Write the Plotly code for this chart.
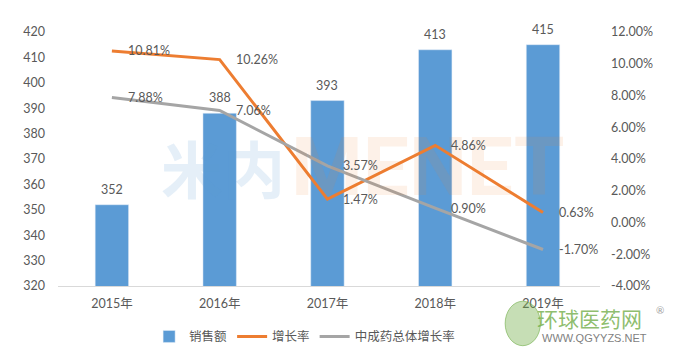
import plotly.graph_objects as go

categories = ["2015年", "2016年", "2017年", "2018年", "2019年"]
sales = [352, 388, 393, 413, 415]
growth = [10.81, 10.26, 1.47, 4.86, 0.63]
tcm_growth = [7.88, 7.06, 3.57, 0.90, -1.70]
right_ticks = [-4, -2, 0, 2, 4, 6, 8, 10, 12]

FONT = "Lato, 'Noto Sans CJK SC', sans-serif"
GRAY = "#595959"
FS = 12.5

fig = go.Figure()

# watermark
fig.add_annotation(xref="paper", yref="paper", x=0.305, y=0.468, text="<b>米内</b>",
                   showarrow=False, xanchor="center", yanchor="middle",
                   font=dict(size=62, color="rgba(91,155,213,0.16)", family="'Noto Sans CJK SC'"))
fig.add_annotation(xref="paper", yref="paper", x=0.683, y=0.468, text="<b>MENET</b>",
                   showarrow=False, xanchor="center", yanchor="middle",
                   font=dict(size=82, color="rgba(237,125,49,0.11)", family="Roboto"))

fig.add_trace(go.Bar(
    x=categories, y=sales, name="销售额", marker_color="#5B9BD5",
    width=0.31,
))
fig.add_trace(go.Scatter(
    x=categories, y=growth, name="增长率", mode="lines", yaxis="y2",
    line=dict(color="#ED7D31", width=3),
))
fig.add_trace(go.Scatter(
    x=categories, y=tcm_growth, name="中成药总体增长率", mode="lines", yaxis="y2",
    line=dict(color="#A5A5A5", width=3),
))

for c, v in zip(categories, sales):
    fig.add_annotation(x=c, y=v, text=str(v), showarrow=False, yanchor="bottom", yshift=6,
                       font=dict(size=FS, color=GRAY, family=FONT))

for series in (growth, tcm_growth):
    for c, v in zip(categories, series):
        fig.add_annotation(x=c, y=v, yref="y2", text=f"{v:.2f}%", showarrow=False,
                           xanchor="left", yanchor="middle", xshift=14,
                           font=dict(size=FS, color=GRAY, family=FONT))

# logo
fig.add_shape(type="circle", xref="paper", yref="paper", x0=0.825, x1=0.89, y0=-0.235, y1=-0.06,
              fillcolor="rgba(112,173,71,0.40)", line=dict(color="rgba(112,173,71,0.6)", width=1))
fig.add_annotation(xref="paper", yref="paper", x=0.98, y=-0.126, text="环球医药网",
                   showarrow=False, xanchor="center", yanchor="middle",
                   font=dict(size=21, color="rgba(112,173,71,0.8)", family="'Noto Sans CJK SC'"))
fig.add_annotation(xref="paper", yref="paper", x=0.99, y=-0.205, text="WWW.QGYYZS.NET",
                   showarrow=False, xanchor="center", yanchor="middle",
                   font=dict(size=11, color="#7F7F7F", family="Liberation Sans"))
fig.add_annotation(xref="paper", yref="paper", x=1.11, y=-0.094, text="®",
                   showarrow=False, xanchor="center", yanchor="middle",
                   font=dict(size=10, color="#A0A0A0"))

# page body has an 8px default margin, so the figure is sized/offset to compensate
fig.update_layout(
    width=668, height=351,
    margin=dict(l=50, r=76, t=24, b=73, autoexpand=False),
    paper_bgcolor="white", plot_bgcolor="white",
    font=dict(family=FONT, size=FS, color=GRAY),
    showlegend=True,
    legend=dict(orientation="h", x=0.455, xanchor="center", y=-0.2, yanchor="middle",
                font=dict(size=FS, color=GRAY), itemwidth=30, tracegroupgap=0),
    xaxis=dict(showgrid=False, showline=True, linecolor="#D9D9D9", linewidth=1,
               ticks="", ticklabelstandoff=6, automargin=False),
    yaxis=dict(range=[320, 420], dtick=10, showgrid=False, zeroline=False,
               showline=False, ticks="", ticklabelstandoff=12, automargin=False),
    yaxis2=dict(range=[-4, 12], overlaying="y", side="right", tickvals=right_ticks,
                ticktext=[f"{v:.2f}%" for v in right_ticks], showgrid=False,
                zeroline=False, showline=False, ticks="", ticklabelstandoff=10,
                automargin=False),
)

fig.write_html("out.html")
